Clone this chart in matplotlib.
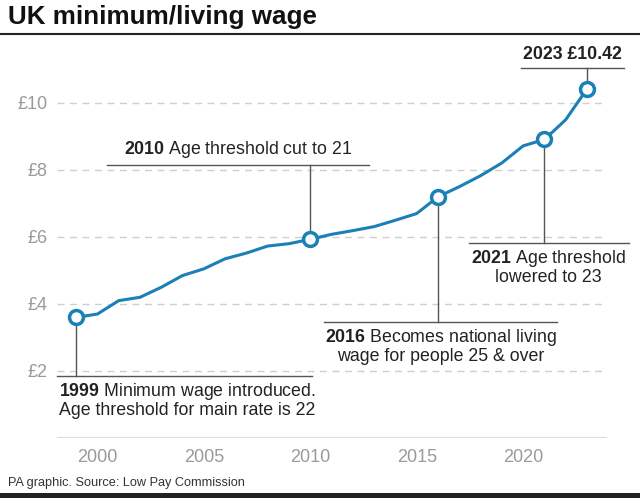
import matplotlib

matplotlib.use("Agg")
import matplotlib.pyplot as plt

plt.rcParams["font.family"] = ["Liberation Sans", "DejaVu Sans"]
plt.rcParams["mathtext.fontset"] = "custom"
plt.rcParams["mathtext.rm"] = "Liberation Sans"
plt.rcParams["mathtext.bf"] = "Liberation Sans:bold"

BLUE = "#1a80b6"
GREY = "#9a9a9a"

years = list(range(1999, 2024))
wages = [3.60, 3.70, 4.10, 4.20, 4.50, 4.85, 5.05, 5.35, 5.52, 5.73, 5.80, 5.93,
         6.08, 6.19, 6.31, 6.50, 6.70, 7.20, 7.50, 7.83, 8.21, 8.72, 8.91, 9.50,
         10.42]
y_ticks = [2, 4, 6, 8, 10]
y_labels = ["£2", "£4", "£6", "£8", "£10"]
x_ticks = [2000, 2005, 2010, 2015, 2020]

# year, text, text x, text y, line y, line x0, line x1, alignment
notes = [
    (1999, "$\\mathbf{1999}$ Minimum wage introduced.\nAge threshold for main rate is 22",
     1998.2, 1.70, 1.85, 1998.1, 2010.08, "left", "top"),
    (2010, "$\\mathbf{2010}$ Age threshold cut to 21",
     2006.6, 8.30, 8.15, 2000.46, 2012.77, "center", "bottom"),
    (2016, "$\\mathbf{2016}$ Becomes national living\nwage for people 25 & over",
     2016.12, 3.31, 3.46, 2010.65, 2021.6, "center", "top"),
    (2021, "$\\mathbf{2021}$ Age threshold\nlowered to 23",
     2021.2, 5.67, 5.82, 2017.44, 2024.99, "center", "top"),
    (2023, "2023 £10.42",
     2022.3, 11.19, 11.04, 2019.9, 2024.75, "center", "bottom"),
]

fig = plt.figure(figsize=(6.4, 4.98), dpi=100)
ax = fig.add_axes([57 / 640, 1 - 438 / 498, 550 / 640, 398 / 498])
ax.set_xlim(1998.1, 2023.94)
ax.set_ylim(0, 11.88)
for s in ax.spines.values():
    s.set_visible(False)

for v in y_ticks:
    ax.axhline(v, color="#cfcfcf", lw=1, dashes=(5, 4), zorder=1)
ax.axhline(0, color="#dcdcdc", lw=1.6, zorder=1)

ax.set_yticks(y_ticks, y_labels)
ax.set_xticks(x_ticks, [str(x) for x in x_ticks])
ax.tick_params(length=0, labelsize=13, labelcolor=GREY)
ax.tick_params(axis="x", pad=8)
ax.tick_params(axis="y", pad=7)

ax.plot(years, wages, color=BLUE, lw=2.2, zorder=3, solid_capstyle="round")

for year, text, tx, ty, ly, lx0, lx1, ha, va in notes:
    w = wages[years.index(year)]
    ax.plot([lx0, lx1], [ly, ly], color="#555555", lw=1, clip_on=False, zorder=2)
    ax.plot([year, year], [ly, w], color="#555555", lw=1, clip_on=False, zorder=2)
    ax.plot(year, w, "o", ms=10, mfc="white", mec=BLUE, mew=2.5, zorder=4,
            clip_on=False)
    weight = "bold" if year == 2023 else "normal"
    ax.text(tx, ty, text, ha=ha, va=va, fontsize=12.8, color="#222222",
            multialignment=ha, linespacing=1.0, fontweight=weight)

fig.text(8 / 640, 1 - 17 / 498, "UK minimum/living wage", fontsize=18.7,
         fontweight="bold", va="center", ha="left", color="#111111")
fig.add_artist(plt.Line2D([0, 1], [1 - 34 / 498] * 2, color="#222222", lw=1.5))
fig.text(8 / 640, 1 - 483 / 498, "PA graphic. Source: Low Pay Commission",
         fontsize=9.2, va="center", ha="left", color="#333333")
fig.add_artist(plt.Rectangle((0, 0), 1, 5 / 498, color="#222222", lw=0))

fig.savefig("out.png", dpi=100)
